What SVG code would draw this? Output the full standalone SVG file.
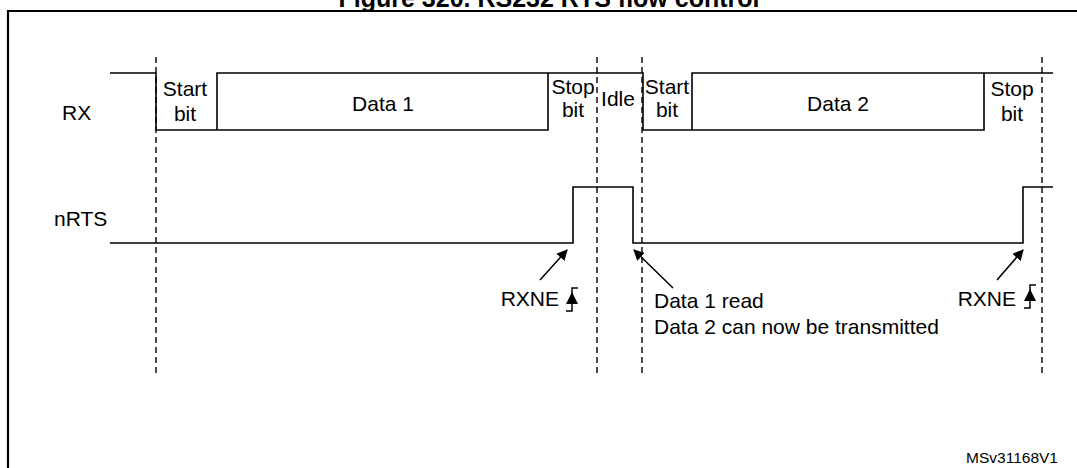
<svg xmlns="http://www.w3.org/2000/svg" width="1077" height="468" viewBox="0 0 1077 468">
<style>
.t{font-family:"Liberation Sans",Arial,sans-serif;font-size:21px;fill:#000}
.c{text-anchor:middle}
.w{fill:none;stroke:#000;stroke-width:1.6}
.d{fill:none;stroke:#000;stroke-width:1.4;stroke-dasharray:6 4}
.a{fill:none;stroke:#000;stroke-width:1.5}
</style>
<defs>
<marker id="ah" viewBox="0 0 10 10" refX="9" refY="5" markerWidth="11" markerHeight="11" markerUnits="userSpaceOnUse" orient="auto">
<path d="M0,0 L10,5 L0,10 z" fill="#000"/>
</marker>
<g id="edge">
<path d="M-6,23 H0 V0 H6" fill="none" stroke="#000" stroke-width="1.5"/>
<path d="M-6,16 L0,4 L6,16 z" fill="#000"/>
</g>
</defs>
<rect width="1077" height="468" fill="#fff"/>
<path d="M8,468 V11 H1077" fill="none" stroke="#000" stroke-width="2.2"/>
<text x="549" y="7" class="t c" style="font-size:25px;font-weight:bold">Figure 320. RS232 RTS flow control</text>

<g id="labels">
<text x="62" y="120" class="t">RX</text>
<text x="54" y="226" class="t">nRTS</text>
</g>

<g id="grid">
<line x1="156" y1="57" x2="156" y2="377" class="d"/>
<line x1="597" y1="57" x2="597" y2="377" class="d"/>
<line x1="642" y1="57" x2="642" y2="377" class="d"/>
<line x1="1042" y1="57" x2="1042" y2="377" class="d"/>
</g>

<g id="rx">
<path class="w" d="M110,73 H156 V130 H548 V73"/>
<path class="w" d="M217,130 V73 H643 V130 H984 V73"/>
<path class="w" d="M692,130 V73 H1053"/>
<text x="185" y="96" class="t c">Start</text>
<text x="185" y="121" class="t c">bit</text>
<text x="383" y="111" class="t c">Data 1</text>
<text x="573" y="94" class="t c">Stop</text>
<text x="573" y="117" class="t c">bit</text>
<text x="618" y="106" class="t c">Idle</text>
<text x="667" y="94" class="t c">Start</text>
<text x="667" y="117" class="t c">bit</text>
<text x="838" y="111" class="t c">Data 2</text>
<text x="1012" y="96" class="t c">Stop</text>
<text x="1012" y="121" class="t c">bit</text>
</g>

<g id="nrts">
<path class="w" d="M110,243 H573 V187 H633 V243 H1023 V187 H1053"/>
</g>

<g id="connectors">
<line x1="540" y1="280" x2="567" y2="250" class="a" marker-end="url(#ah)"/>
<line x1="673" y1="288" x2="634" y2="250" class="a" marker-end="url(#ah)"/>
<line x1="997" y1="280" x2="1023" y2="250" class="a" marker-end="url(#ah)"/>
</g>

<g id="rxne1">
<text x="559" y="306" class="t" text-anchor="end">RXNE</text>
<use href="#edge" x="572" y="288"/>
</g>
<g id="rxne2">
<text x="1016" y="306" class="t" text-anchor="end">RXNE</text>
<use href="#edge" x="1030" y="285"/>
</g>
<g id="note">
<text x="654" y="308" class="t">Data 1 read</text>
<text x="654" y="334" class="t">Data 2 can now be transmitted</text>
</g>
<text x="1058" y="463" class="t" text-anchor="end" style="font-size:15.5px">MSv31168V1</text>
</svg>
